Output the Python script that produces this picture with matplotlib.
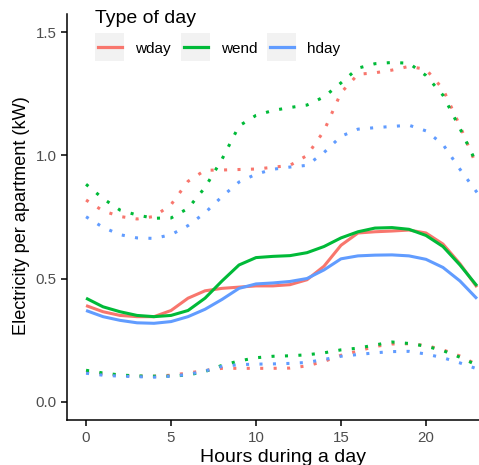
import matplotlib.pyplot as plt
from matplotlib.patches import Rectangle
from matplotlib.lines import Line2D

plt.rcParams['font.family'] = ['Liberation Sans', 'DejaVu Sans']

hours = list(range(24))
day_types = ["wday", "wend", "hday"]
colors = {"wday": "#F8766D", "wend": "#00BA38", "hday": "#619CFF"}

# mean consumption per hour
mean_kw = {
    "wday": [0.39, 0.365, 0.35, 0.345, 0.345, 0.37, 0.42, 0.45, 0.46, 0.465, 0.47, 0.47,
             0.475, 0.495, 0.55, 0.635, 0.685, 0.69, 0.693, 0.697, 0.685, 0.64, 0.56, 0.465],
    "wend": [0.42, 0.385, 0.365, 0.35, 0.345, 0.35, 0.37, 0.42, 0.49, 0.555, 0.585, 0.59,
             0.593, 0.605, 0.63, 0.665, 0.69, 0.705, 0.707, 0.70, 0.675, 0.63, 0.555, 0.47],
    "hday": [0.37, 0.345, 0.33, 0.32, 0.318, 0.325, 0.345, 0.375, 0.415, 0.46, 0.478, 0.482,
             0.488, 0.50, 0.535, 0.58, 0.592, 0.595, 0.596, 0.592, 0.578, 0.545, 0.49, 0.418],
}
# upper quantile
upper_kw = {
    "wday": [0.819, 0.775, 0.752, 0.742, 0.752, 0.80, 0.895, 0.94, 0.941, 0.943, 0.945, 0.952,
             0.96, 1.0, 1.10, 1.255, 1.33, 1.336, 1.347, 1.362, 1.35, 1.27, 1.12, 0.955],
    "wend": [0.883, 0.825, 0.778, 0.758, 0.745, 0.746, 0.785, 0.87, 0.985, 1.12, 1.163, 1.183,
             1.195, 1.205, 1.238, 1.295, 1.355, 1.373, 1.378, 1.375, 1.325, 1.245, 1.11, 0.965],
    "hday": [0.751, 0.708, 0.678, 0.665, 0.663, 0.678, 0.715, 0.767, 0.833, 0.892, 0.924, 0.944,
             0.953, 0.96, 1.012, 1.078, 1.107, 1.113, 1.118, 1.123, 1.10, 1.045, 0.944, 0.85],
}
# lower quantile
lower_kw = {
    "wday": [0.118, 0.112, 0.106, 0.103, 0.103, 0.107, 0.116, 0.126, 0.135, 0.135, 0.135, 0.135,
             0.136, 0.145, 0.163, 0.188, 0.205, 0.224, 0.234, 0.235, 0.228, 0.21, 0.185, 0.15],
    "wend": [0.127, 0.116, 0.108, 0.104, 0.103, 0.103, 0.108, 0.122, 0.147, 0.165, 0.178, 0.184,
             0.186, 0.19, 0.198, 0.21, 0.217, 0.23, 0.242, 0.236, 0.225, 0.207, 0.18, 0.148],
    "hday": [0.115, 0.107, 0.103, 0.101, 0.099, 0.103, 0.11, 0.124, 0.143, 0.15, 0.152, 0.153,
             0.155, 0.159, 0.171, 0.184, 0.191, 0.198, 0.203, 0.204, 0.193, 0.178, 0.157, 0.133],
}

W, H = 479, 465
fig = plt.figure(figsize=(W / 100, H / 100), dpi=100)
ax = fig.add_axes([66.5 / W, 45 / H, 430 / W, 406 / H])

dotted = (0, (1, 3.4))
for d in day_types:
    c = colors[d]
    ax.plot(hours, upper_kw[d], color=c, lw=2.2, linestyle=dotted, dash_capstyle="butt")
    ax.plot(hours, lower_kw[d], color=c, lw=2.2, linestyle=dotted, dash_capstyle="butt")
for d in day_types:
    ax.plot(hours, mean_kw[d], color=colors[d], lw=2.2, solid_capstyle="butt")

ax.set_xlim(-1.15, 24.15)
ax.set_ylim(-0.075, 1.575)
ax.set_xticks([0, 5, 10, 15, 20])
ax.set_yticks([0.0, 0.5, 1.0, 1.5])
ax.set_yticklabels(["0.0", "0.5", "1.0", "1.5"])
for s in ["top", "right"]:
    ax.spines[s].set_visible(False)
for s in ["left", "bottom"]:
    ax.spines[s].set_linewidth(1.1)
ax.tick_params(length=4, width=1.1, color="black", labelcolor="#4D4D4D", labelsize=10.8)
ax.tick_params(axis="x", pad=4)
ax.tick_params(axis="y", pad=3)

# axis titles
fig.text(282.5 / W, 1 - 461.5 / H, "Hours during a day", fontsize=14,
         ha="center", va="baseline")
fig.text(21.5 / W, 1 - 215.5 / H, "Electricity per apartment (kW)", fontsize=13.1,
         rotation=90, ha="center", va="center")

# legend, drawn in pixel coordinates of the figure
def px(x, y):
    return x / W, 1 - y / H

fig.text(*px(95, 22.7), "Type of day", fontsize=14, va="baseline", ha="left")
key_x = [95, 181, 267]
for d, kx in zip(day_types, key_x):
    x0, y0 = px(kx, 60.7)
    fig.add_artist(Rectangle((x0, y0), 29 / W, 27.4 / H, transform=fig.transFigure,
                             facecolor="#F2F2F2", edgecolor="none"))
    lx0, ly = px(kx + 3, 46.7)
    lx1, _ = px(kx + 26.5, 46.7)
    fig.add_artist(Line2D([lx0, lx1], [ly, ly], transform=fig.transFigure,
                          color=colors[d], lw=2.3))
    fig.text(*px(kx + 40, 53.3), d, fontsize=11, va="baseline", ha="left")

fig.savefig("out.png", dpi=100)
